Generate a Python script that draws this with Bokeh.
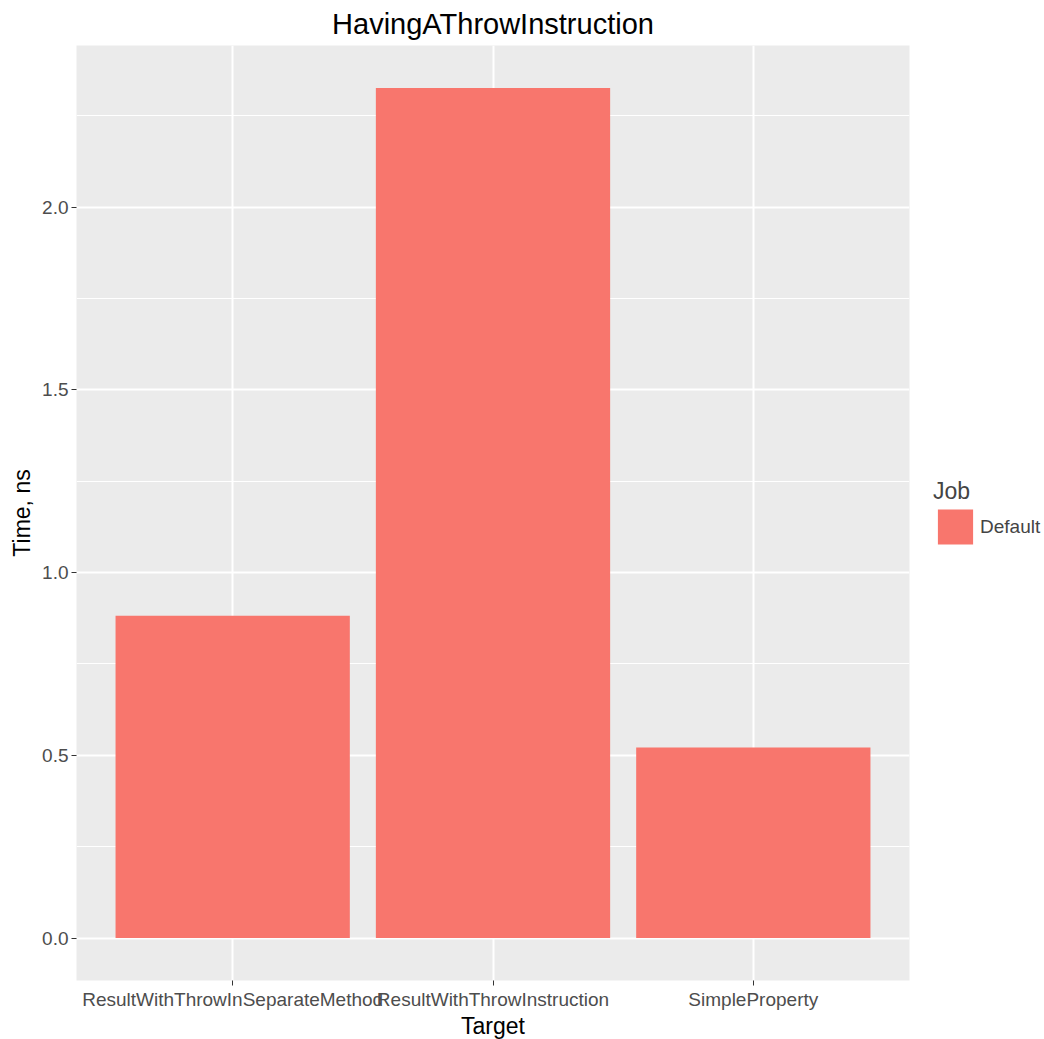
from bokeh.plotting import figure
from bokeh.models import Range1d, FixedTicker, Legend, LegendItem, ColumnDataSource, NumeralTickFormatter
from bokeh.embed import file_html
from bokeh.resources import INLINE

targets = ["ResultWithThrowInSeparateMethod", "ResultWithThrowInstruction", "SimpleProperty"]
times = [0.882, 2.326, 0.521]
job = "Default"
y_ticks = [0.0, 0.5, 1.0, 1.5, 2.0]
y_minor = [0.25, 0.75, 1.25, 1.75, 2.25]

xs = list(range(1, len(targets) + 1))
src = ColumnDataSource(dict(x=xs, top=times, name=targets))

ymax = max(times)
pad = ymax * 0.05
FONT = "Liberation Sans"

p = figure(frame_width=833, frame_height=935,
           x_range=Range1d(0.4, len(targets) + 0.6),
           y_range=Range1d(-pad, ymax + pad),
           output_backend="svg", toolbar_location=None,
           title="HavingAThrowInstruction",
           min_border_left=76, min_border_right=126, min_border_top=43, min_border_bottom=45)

p.background_fill_color = "#EBEBEB"
p.border_fill_color = "white"
p.outline_line_color = None

r = p.vbar(x="x", top="top", bottom=0, width=0.9, source=src, fill_color="#F8766D", line_color=None)

p.title.align = "center"
p.title.text_font = FONT
p.title.text_font_size = "29px"
p.title.text_font_style = "normal"
p.title.text_color = "black"
p.title.standoff = 11

p.xaxis.ticker = FixedTicker(ticks=xs)
p.xaxis.major_label_overrides = {x: t for x, t in zip(xs, targets)}
p.yaxis.ticker = FixedTicker(ticks=y_ticks, minor_ticks=y_minor)
p.yaxis.formatter = NumeralTickFormatter(format="0.0")
p.xaxis.axis_label = "Target"
p.yaxis.axis_label = "Time, ns"

for ax in (p.xaxis[0], p.yaxis[0]):
    ax.axis_line_color = None
    ax.major_tick_line_color = "#333333"
    ax.major_tick_in = 0
    ax.major_tick_out = 5
    ax.minor_tick_line_color = None
    ax.major_label_text_font = FONT
    ax.major_label_text_font_size = "19px"
    ax.major_label_text_color = "#4D4D4D"
    ax.axis_label_text_font = FONT
    ax.axis_label_text_font_size = "23px"
    ax.axis_label_text_font_style = "normal"
    ax.axis_label_text_color = "black"
    ax.major_label_standoff = 3
    ax.axis_label_standoff = 4
p.xaxis[0].axis_label_standoff = 0

p.xgrid.ticker = FixedTicker(ticks=xs)
p.xgrid.grid_line_color = "white"
p.xgrid.grid_line_width = 2
p.ygrid.ticker = FixedTicker(ticks=y_ticks, minor_ticks=y_minor)
p.ygrid.grid_line_color = "white"
p.ygrid.grid_line_width = 2
p.ygrid.minor_grid_line_color = "white"
p.ygrid.minor_grid_line_width = 1

legend = Legend(items=[LegendItem(label=job, renderers=[r])], title="Job",
                location="center_left")
legend.title_text_font = FONT
legend.title_text_font_size = "23px"
legend.title_text_font_style = "normal"
legend.label_text_font = FONT
legend.label_text_font_size = "19px"
legend.glyph_width = 44
legend.glyph_height = 44
legend.label_standoff = 3
legend.padding = 0
legend.margin = 24
legend.spacing = 0
legend.title_standoff = 0
legend.border_line_color = None
legend.background_fill_alpha = 0
p.add_layout(legend, "right")

open("out.html", "w").write(file_html(p, INLINE))
